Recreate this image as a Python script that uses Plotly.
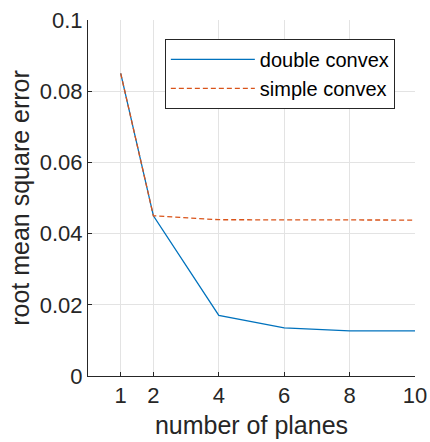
import plotly.graph_objects as go

planes = [1, 2, 4, 6, 8, 10]
double_convex = [0.085, 0.045, 0.017, 0.0135, 0.0127, 0.0127]
simple_convex = [0.085, 0.045, 0.0439, 0.0438, 0.0438, 0.0438]
x_ticks = [1, 2, 4, 6, 8, 10]
y_ticks = [0, 0.02, 0.04, 0.06, 0.08, 0.1]
y_tick_labels = ["0", "0.02", "0.04", "0.06", "0.08", "0.1"]

fig = go.Figure()
fig.add_trace(go.Scatter(x=planes, y=double_convex, mode="lines", name="double convex",
                         line=dict(color="#0072BD", width=1.3)))
fig.add_trace(go.Scatter(x=planes, y=simple_convex, mode="lines", name="simple convex",
                         line=dict(color="#D95319", width=1.3, dash="5px,3px")))

font = "Liberation Sans, Arial, sans-serif"
fig.update_layout(
    width=430, height=442,
    margin=dict(l=88, r=15, t=20, b=66),
    paper_bgcolor="white", plot_bgcolor="white",
    font=dict(family=font, size=22, color="#262626"),
    showlegend=True,
    legend=dict(x=0.235, y=0.947, xanchor="left", yanchor="top",
                bordercolor="#262626", borderwidth=1, bgcolor="white",
                font=dict(size=20, color="#000000"), itemwidth=84,
                tracegroupgap=0),
    xaxis=dict(range=[0, 10], tickvals=x_ticks, ticktext=[str(v) for v in x_ticks],
               showgrid=True, gridcolor="#e3e3e3", gridwidth=1,
               showline=True, linecolor="#262626", linewidth=1,
               ticks="inside", ticklen=4, tickcolor="#262626",
               zeroline=False, mirror=False, automargin=False,
               tickfont=dict(size=22),
               title=dict(text="number of planes", font=dict(size=25), standoff=9)),
    yaxis=dict(range=[0, 0.1], tickvals=y_ticks, ticktext=y_tick_labels,
               showgrid=True, gridcolor="#e3e3e3", gridwidth=1,
               showline=True, linecolor="#262626", linewidth=1,
               ticks="inside", ticklen=4, tickcolor="#262626",
               zeroline=False, mirror=False, automargin=False,
               tickfont=dict(size=22),
               title=dict(text="root mean square error", font=dict(size=25), standoff=3)),
)

fig.write_html("out.html", config={"displayModeBar": False},
               post_script="document.body.style.margin='0';")
